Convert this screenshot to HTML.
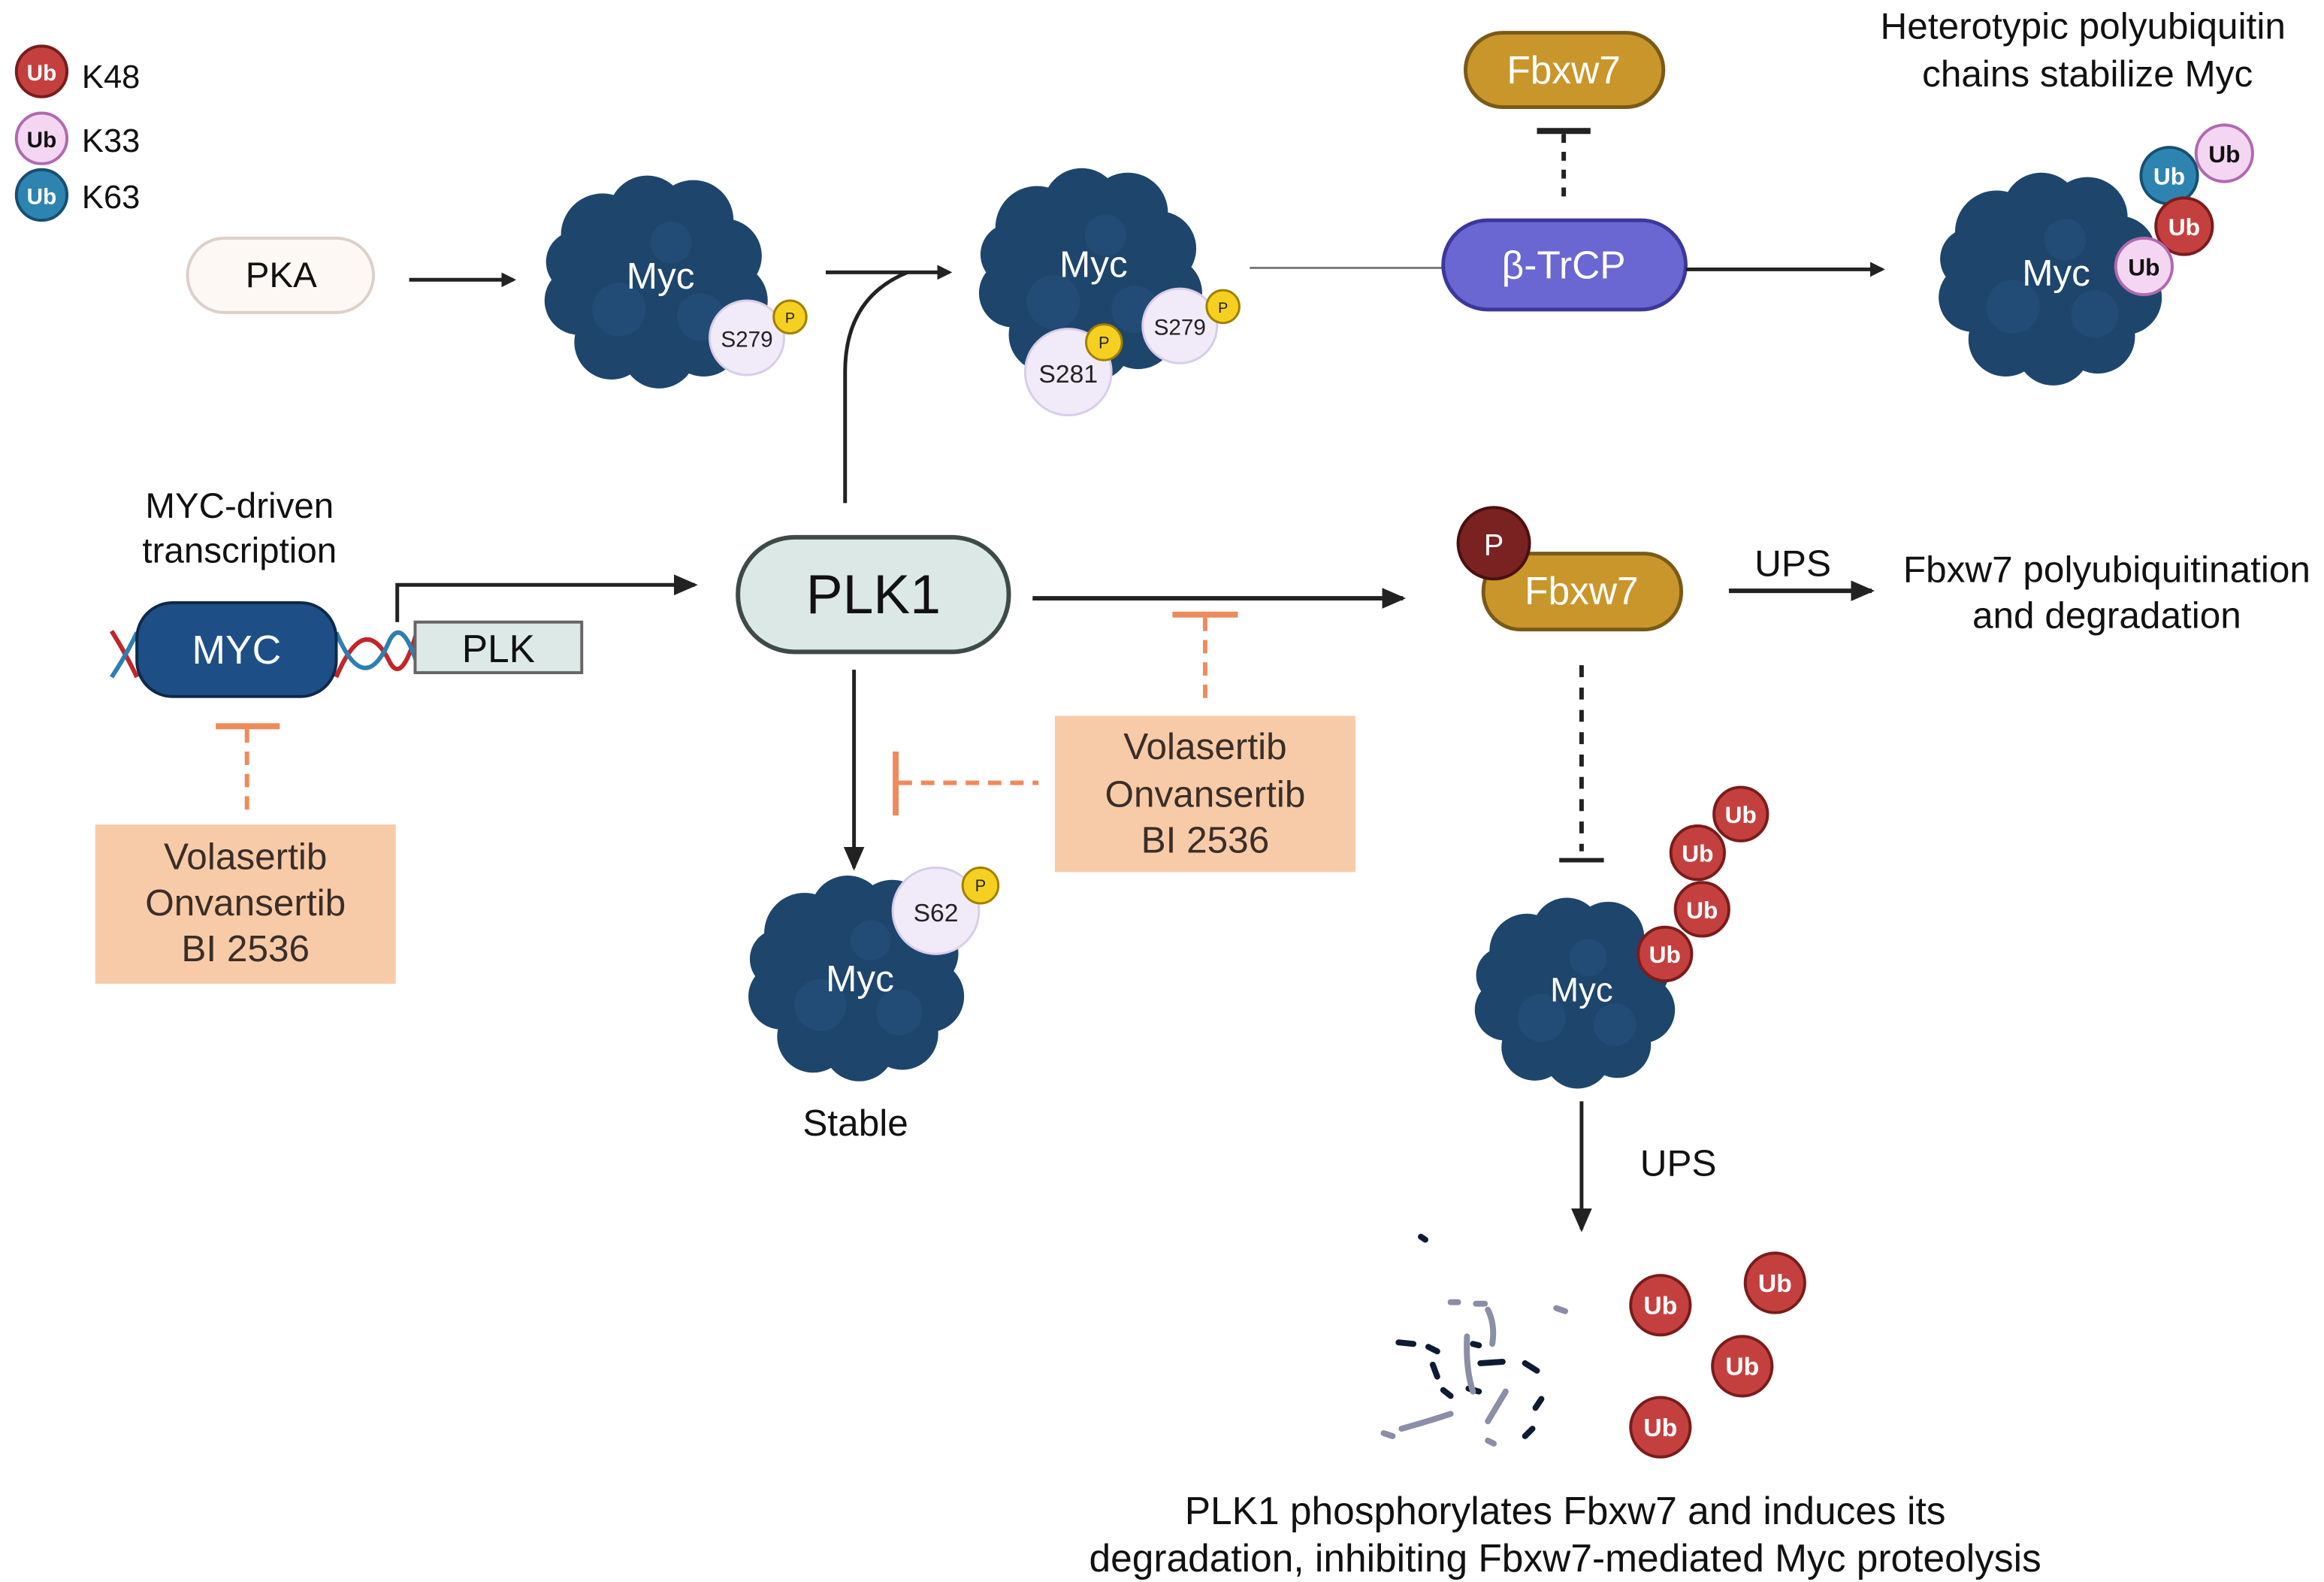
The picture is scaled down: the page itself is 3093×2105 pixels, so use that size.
<!DOCTYPE html>
<html><head><meta charset="utf-8"><style>
html,body{margin:0;padding:0;background:#fff;}
svg{display:block;}
text{font-family:"Liberation Sans",sans-serif;}
</style></head><body>
<svg width="3093" height="2105" viewBox="0 0 1562 1063" preserveAspectRatio="none" xmlns="http://www.w3.org/2000/svg">
<defs>
<marker id="ah" markerWidth="10" markerHeight="10" refX="8" refY="5" orient="auto" markerUnits="userSpaceOnUse"><path d="M0,0 L10,5 L0,10 z" fill="#222"/></marker>
<marker id="ah2" markerWidth="16" markerHeight="14" refX="14" refY="7" orient="auto" markerUnits="userSpaceOnUse"><path d="M0,0 L16,7 L0,14 z" fill="#222"/></marker>
<symbol id="blob" viewBox="-75 -68 150 136" overflow="visible">
<g fill="#1e456c">
<circle cx="0" cy="0" r="55"/>
<circle cx="-36" cy="-30" r="28"/><circle cx="-6" cy="-44" r="26"/><circle cx="25" cy="-40" r="27"/>
<circle cx="46" cy="-16" r="25"/><circle cx="50" cy="14" r="25"/><circle cx="32" cy="40" r="25"/>
<circle cx="2" cy="48" r="25"/><circle cx="-30" cy="42" r="25"/><circle cx="-52" cy="14" r="23"/><circle cx="-53" cy="-12" r="21"/>
</g>
<g fill="#2a5a86" opacity="0.35">
<circle cx="-25" cy="20" r="18"/><circle cx="30" cy="25" r="16"/><circle cx="10" cy="-25" r="14"/>
</g>
</symbol>
</defs>

<!-- Legend -->
<circle cx="28" cy="48" r="17" fill="#c4403f" stroke="#7a1c1c" stroke-width="2"/>
<text x="28" y="54" font-size="15" font-weight="bold" fill="#fff" text-anchor="middle">Ub</text>
<text x="55" y="59" font-size="22" fill="#111">K48</text>
<circle cx="28" cy="93" r="17" fill="#f4d6f2" stroke="#b06aae" stroke-width="2"/>
<text x="28" y="99" font-size="15" font-weight="bold" fill="#111" text-anchor="middle">Ub</text>
<text x="55" y="102" font-size="22" fill="#111">K33</text>
<circle cx="28" cy="131" r="17" fill="#2d84b1" stroke="#184f70" stroke-width="2"/>
<text x="28" y="137" font-size="15" font-weight="bold" fill="#fff" text-anchor="middle">Ub</text>
<text x="55" y="140" font-size="22" fill="#111">K63</text>

<!-- PKA -->
<rect x="126" y="160" width="125" height="50" rx="25" fill="#fdf8f3" stroke="#dcd0c8" stroke-width="2"/>
<text x="189" y="193" font-size="24" fill="#111" text-anchor="middle">PKA</text>
<line x1="275" y1="188" x2="345" y2="188" stroke="#222" stroke-width="2.5" marker-end="url(#ah)"/>

<!-- Myc 1 -->
<use href="#blob" x="366" y="120" width="150" height="136"/>
<text x="444" y="194" font-size="25" fill="#fff" text-anchor="middle">Myc</text>
<circle cx="502" cy="227" r="25" fill="#f1ebf9" stroke="#d8cde8" stroke-width="1.5"/>
<text x="502" y="233" font-size="15" fill="#222" text-anchor="middle">S279</text>
<circle cx="531" cy="213" r="11" fill="#f5d020" stroke="#a08000" stroke-width="1.5"/>
<text x="531" y="217" font-size="10" fill="#222" text-anchor="middle">P</text>

<!-- arrow to Myc2 + curve from PLK1 -->
<line x1="555" y1="183" x2="638" y2="183" stroke="#222" stroke-width="2.5" marker-end="url(#ah)"/>
<path d="M568,338 L568,250 Q568,200 610,183" fill="none" stroke="#222" stroke-width="2.5"/>

<!-- Myc 2 -->
<use href="#blob" x="658" y="115" width="150" height="136"/>
<text x="735" y="186" font-size="25" fill="#fff" text-anchor="middle">Myc</text>
<circle cx="718" cy="250" r="29" fill="#f1ebf9" stroke="#d8cde8" stroke-width="1.5"/>
<text x="718" y="257" font-size="17" fill="#222" text-anchor="middle">S281</text>
<circle cx="742" cy="230" r="12" fill="#f5d020" stroke="#a08000" stroke-width="1.5"/>
<text x="742" y="234" font-size="11" fill="#222" text-anchor="middle">P</text>
<circle cx="793" cy="219" r="25" fill="#f1ebf9" stroke="#d8cde8" stroke-width="1.5"/>
<text x="793" y="225" font-size="15" fill="#222" text-anchor="middle">S279</text>
<circle cx="822" cy="206" r="11" fill="#f5d020" stroke="#a08000" stroke-width="1.5"/>
<text x="822" y="210" font-size="10" fill="#222" text-anchor="middle">P</text>

<!-- beta-TrCP -->
<line x1="840" y1="180" x2="970" y2="180" stroke="#777" stroke-width="1.5"/>
<rect x="970" y="148" width="163" height="60" rx="30" fill="#6a66d2" stroke="#3b389a" stroke-width="2.5"/>
<text x="1051" y="187" font-size="26" fill="#fff" text-anchor="middle">β-TrCP</text>
<line x1="1133" y1="181" x2="1265" y2="181" stroke="#222" stroke-width="2.5" marker-end="url(#ah)"/>

<!-- Fbxw7 top -->
<rect x="985" y="22" width="133" height="50" rx="25" fill="#c9962b" stroke="#7a5a18" stroke-width="2.5"/>
<text x="1051" y="56" font-size="26" fill="#fff" text-anchor="middle">Fbxw7</text>
<line x1="1033" y1="88" x2="1069" y2="88" stroke="#222" stroke-width="4"/>
<line x1="1051" y1="90" x2="1051" y2="133" stroke="#222" stroke-width="3" stroke-dasharray="6,6"/>

<!-- Heterotypic -->
<text x="1400" y="26" font-size="25" fill="#111" text-anchor="middle">Heterotypic polyubiquitin</text>
<text x="1403" y="58" font-size="25" fill="#111" text-anchor="middle">chains stabilize Myc</text>
<use href="#blob" x="1303" y="118" width="150" height="136"/>
<text x="1382" y="192" font-size="25" fill="#fff" text-anchor="middle">Myc</text>
<circle cx="1495" cy="103" r="19" fill="#f4d6f2" stroke="#b06aae" stroke-width="2"/>
<text x="1495" y="109" font-size="16" font-weight="bold" fill="#111" text-anchor="middle">Ub</text>
<circle cx="1458" cy="118" r="19" fill="#2d84b1" stroke="#184f70" stroke-width="2"/>
<text x="1458" y="124" font-size="16" font-weight="bold" fill="#fff" text-anchor="middle">Ub</text>
<circle cx="1468" cy="152" r="19" fill="#c4403f" stroke="#7a1c1c" stroke-width="2"/>
<text x="1468" y="158" font-size="16" font-weight="bold" fill="#fff" text-anchor="middle">Ub</text>
<circle cx="1441" cy="179" r="19" fill="#f4d6f2" stroke="#b06aae" stroke-width="2"/>
<text x="1441" y="185" font-size="16" font-weight="bold" fill="#111" text-anchor="middle">Ub</text>

<!-- MYC-driven transcription -->
<text x="161" y="348" font-size="24" fill="#111" text-anchor="middle">MYC-driven</text>
<text x="161" y="378" font-size="24" fill="#111" text-anchor="middle">transcription</text>
<!-- DNA -->
<path d="M75,424 Q85,440 92,455 M226,455 Q245,410 262,445 Q270,460 280,425" fill="none" stroke="#c0262b" stroke-width="3"/>
<path d="M75,455 Q85,440 92,425 M226,425 Q245,470 262,430 Q270,415 280,445" fill="none" stroke="#2e7fb0" stroke-width="3"/>
<rect x="92" y="405" width="134" height="63" rx="24" fill="#1d4f86" stroke="#0d2a4a" stroke-width="2"/>
<text x="159" y="446" font-size="27" fill="#fff" text-anchor="middle">MYC</text>
<rect x="279" y="418" width="112" height="34" fill="#dde9e6" stroke="#666" stroke-width="2"/>
<text x="335" y="445" font-size="26" fill="#111" text-anchor="middle">PLK</text>
<path d="M267,418 L267,393 L467,393" fill="none" stroke="#222" stroke-width="2.5" marker-end="url(#ah2)"/>

<!-- Left drug box -->
<line x1="145" y1="488" x2="188" y2="488" stroke="#ee8a5c" stroke-width="4"/>
<line x1="166" y1="490" x2="166" y2="547" stroke="#ee8a5c" stroke-width="3" stroke-dasharray="9,6"/>
<rect x="64" y="554" width="202" height="107" fill="#f8cba8"/>
<text x="165" y="584" font-size="25" fill="#3a2e28" text-anchor="middle">Volasertib</text>
<text x="165" y="615" font-size="25" fill="#3a2e28" text-anchor="middle">Onvansertib</text>
<text x="165" y="646" font-size="25" fill="#3a2e28" text-anchor="middle">BI 2536</text>

<!-- PLK1 -->
<rect x="496" y="361" width="182" height="77" rx="38" fill="#dbe8e6" stroke="#3d4a48" stroke-width="3"/>
<text x="587" y="412" font-size="37" fill="#111" text-anchor="middle">PLK1</text>
<line x1="694" y1="402" x2="943" y2="402" stroke="#222" stroke-width="3" marker-end="url(#ah2)"/>

<!-- center drug box -->
<line x1="788" y1="413" x2="832" y2="413" stroke="#ee8a5c" stroke-width="4"/>
<line x1="810" y1="415" x2="810" y2="470" stroke="#ee8a5c" stroke-width="3" stroke-dasharray="9,6"/>
<rect x="709" y="481" width="202" height="105" fill="#f8cba8"/>
<text x="810" y="510" font-size="25" fill="#3a2e28" text-anchor="middle">Volasertib</text>
<text x="810" y="542" font-size="25" fill="#3a2e28" text-anchor="middle">Onvansertib</text>
<text x="810" y="573" font-size="25" fill="#3a2e28" text-anchor="middle">BI 2536</text>
<line x1="602" y1="505" x2="602" y2="548" stroke="#ee8a5c" stroke-width="4"/>
<line x1="604" y1="526" x2="698" y2="526" stroke="#ee8a5c" stroke-width="3" stroke-dasharray="9,6"/>

<!-- down to stable Myc -->
<line x1="574" y1="450" x2="574" y2="583" stroke="#222" stroke-width="2.5" marker-end="url(#ah2)"/>
<use href="#blob" x="503" y="590" width="145" height="132"/>
<text x="578" y="666" font-size="25" fill="#fff" text-anchor="middle">Myc</text>
<circle cx="629" cy="612" r="29" fill="#f1ebf9" stroke="#d8cde8" stroke-width="1.5"/>
<text x="629" y="619" font-size="17" fill="#222" text-anchor="middle">S62</text>
<circle cx="659" cy="595" r="12" fill="#f5d020" stroke="#a08000" stroke-width="1.5"/>
<text x="659" y="599" font-size="11" fill="#222" text-anchor="middle">P</text>
<text x="575" y="763" font-size="25" fill="#111" text-anchor="middle">Stable</text>

<!-- P-Fbxw7 -->
<rect x="997" y="372" width="133" height="51" rx="25" fill="#c9962b" stroke="#7a5a18" stroke-width="2.5"/>
<text x="1063" y="406" font-size="26" fill="#fff" text-anchor="middle">Fbxw7</text>
<circle cx="1004" cy="365" r="24" fill="#7a2222" stroke="#4a1010" stroke-width="2"/>
<text x="1004" y="373" font-size="20" fill="#fff" text-anchor="middle">P</text>
<text x="1205" y="387" font-size="25" fill="#111" text-anchor="middle">UPS</text>
<line x1="1162" y1="397" x2="1258" y2="397" stroke="#222" stroke-width="3" marker-end="url(#ah2)"/>
<text x="1416" y="391" font-size="25" fill="#111" text-anchor="middle">Fbxw7 polyubiquitination</text>
<text x="1416" y="422" font-size="25" fill="#111" text-anchor="middle">and degradation</text>

<!-- dashed inhibition to Myc -->
<line x1="1063" y1="447" x2="1063" y2="572" stroke="#222" stroke-width="3" stroke-dasharray="8,7"/>
<line x1="1048" y1="578" x2="1078" y2="578" stroke="#222" stroke-width="3"/>
<use href="#blob" x="991" y="605" width="135" height="122"/>
<text x="1063" y="673" font-size="23" fill="#fff" text-anchor="middle">Myc</text>
<g font-size="16" font-weight="bold" fill="#fff" text-anchor="middle">
<circle cx="1170" cy="547" r="18" fill="#c4403f" stroke="#7a1c1c" stroke-width="2"/><text x="1170" y="553">Ub</text>
<circle cx="1141" cy="573" r="18" fill="#c4403f" stroke="#7a1c1c" stroke-width="2"/><text x="1141" y="579">Ub</text>
<circle cx="1144" cy="611" r="18" fill="#c4403f" stroke="#7a1c1c" stroke-width="2"/><text x="1144" y="617">Ub</text>
<circle cx="1119" cy="641" r="18" fill="#c4403f" stroke="#7a1c1c" stroke-width="2"/><text x="1119" y="647">Ub</text>
</g>

<!-- UPS down -->
<line x1="1063" y1="740" x2="1063" y2="826" stroke="#222" stroke-width="2.5" marker-end="url(#ah2)"/>
<text x="1128" y="790" font-size="25" fill="#111" text-anchor="middle">UPS</text>

<!-- fragments -->
<g stroke-linecap="round" fill="none">
<g stroke="#0f1a33" stroke-width="4">
<line x1="955" y1="831" x2="958" y2="833"/><line x1="940" y1="902" x2="950" y2="903"/><line x1="960" y1="905" x2="966" y2="908"/>
<line x1="963" y1="917" x2="966" y2="925"/><line x1="970" y1="934" x2="975" y2="938"/><line x1="995" y1="916" x2="1010" y2="915"/>
<line x1="1025" y1="916" x2="1033" y2="921"/><line x1="1036" y1="940" x2="1032" y2="946"/><line x1="1030" y1="960" x2="1025" y2="965"/>
<line x1="987" y1="933" x2="994" y2="935"/><line x1="990" y1="903" x2="994" y2="904"/>
</g>
<g stroke="#8a8ea6" stroke-width="4">
<path d="M986,898 Q985,920 990,935"/><path d="M1000,880 Q1005,890 1003,903"/><line x1="1012" y1="935" x2="1000" y2="955"/>
<path d="M942,960 Q960,955 975,950"/><line x1="930" y1="963" x2="936" y2="965"/><line x1="1046" y1="879" x2="1052" y2="881"/>
<line x1="975" y1="875" x2="980" y2="875"/><line x1="992" y1="876" x2="998" y2="876"/><line x1="1000" y1="968" x2="1004" y2="970"/>
</g>
</g>
<g font-size="17" font-weight="bold" fill="#fff" text-anchor="middle">
<circle cx="1116" cy="877" r="20" fill="#c4403f" stroke="#7a1c1c" stroke-width="2"/><text x="1116" y="883">Ub</text>
<circle cx="1193" cy="862" r="20" fill="#c4403f" stroke="#7a1c1c" stroke-width="2"/><text x="1193" y="868">Ub</text>
<circle cx="1171" cy="918" r="20" fill="#c4403f" stroke="#7a1c1c" stroke-width="2"/><text x="1171" y="924">Ub</text>
<circle cx="1116" cy="959" r="20" fill="#c4403f" stroke="#7a1c1c" stroke-width="2"/><text x="1116" y="965">Ub</text>
</g>

<text x="1052" y="1024" font-size="26" fill="#111" text-anchor="middle">PLK1 phosphorylates Fbxw7 and induces its</text>
<text x="1052" y="1056" font-size="26" fill="#111" text-anchor="middle">degradation, inhibiting Fbxw7-mediated Myc proteolysis</text>
</svg>
</body></html>
